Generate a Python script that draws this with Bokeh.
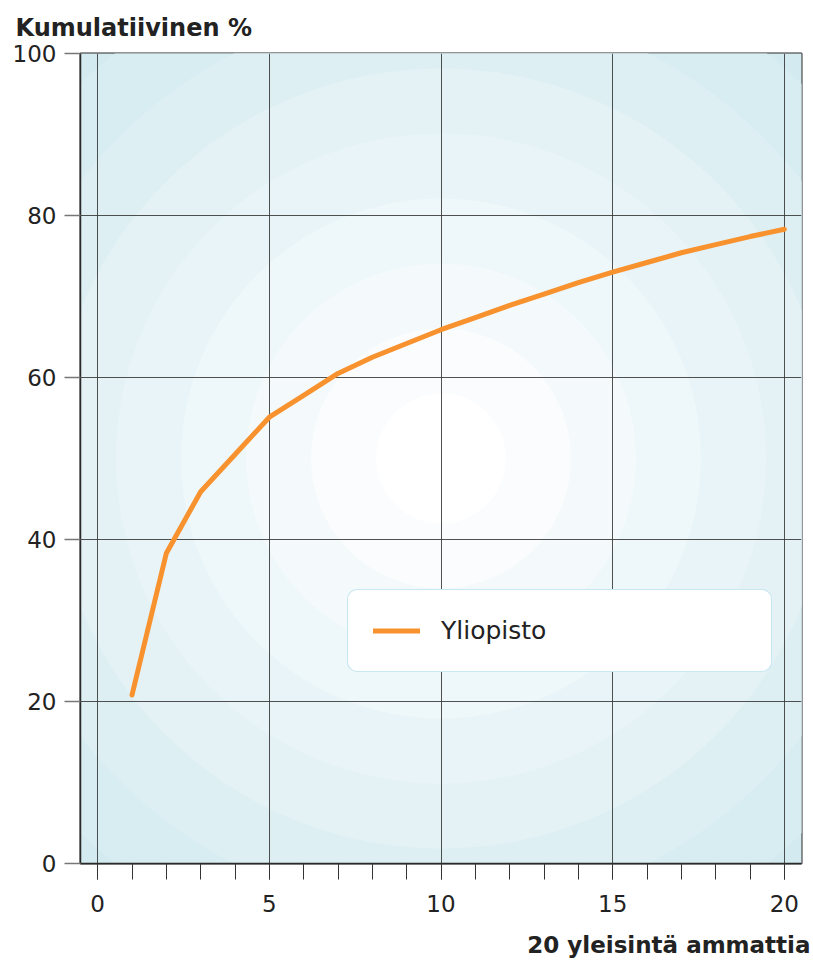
from bokeh.plotting import figure
from bokeh.models import (SingleIntervalTicker, FixedTicker, Legend, LegendItem,
                          Title, ColumnDataSource)
from bokeh.embed import file_html
from bokeh.resources import INLINE

# ---- data ----
ranks = list(range(1, 21))
cumulative_pct = [20.8, 38.3, 45.9, 50.5, 55.1, 57.8, 60.5, 62.5, 64.2, 65.9,
                  67.4, 68.9, 70.3, 71.7, 73.0, 74.2, 75.4, 76.4, 77.4, 78.3]
series_name = "Yliopisto"
y_tick_values = [0, 20, 40, 60, 80, 100]
title_text = "Kumulatiivinen %"
x_label_text = "20 yleisintä ammattia"

FONT = "DejaVu Sans"
TEXT_COLOR = "#222222"
FRAME_COLOR = "#2a2a2a"

p = figure(frame_width=721, frame_height=810,
           x_range=(-0.5, 20.5), y_range=(0, 100),
           output_backend="svg", toolbar_location=None,
           min_border_left=80, min_border_top=53,
           min_border_right=10, min_border_bottom=100)

# ---- radial background (style only) ----
def mix(c1, c2, t):
    a = [int(c1[i:i + 2], 16) for i in (1, 3, 5)]
    b = [int(c2[i:i + 2], 16) for i in (1, 3, 5)]
    return "#%02x%02x%02x" % tuple(round(a[i] + (b[i] - a[i]) * t) for i in range(3))

edge_col = "#d3eaf0"
n_rings = 9
ring_step = 65
ring_sizes = [2 * ring_step * k for k in range(n_rings, 0, -1)]
ring_cols = [mix("#ffffff", edge_col, (k - 1) / (n_rings - 1)) for k in range(n_rings, 0, -1)]
xc = (p.x_range.start + p.x_range.end) / 2
yc = (p.y_range.start + p.y_range.end) / 2
p.background_fill_color = edge_col
bg = p.scatter(x=[xc] * n_rings, y=[yc] * n_rings, size=ring_sizes, marker="circle",
               fill_color=ring_cols, line_color=None)
bg.level = "image"

p.border_fill_color = "white"
p.outline_line_color = FRAME_COLOR
p.outline_line_width = 2

# ---- data line ----
src = ColumnDataSource(dict(x=ranks, y=cumulative_pct))
r = p.line("x", "y", source=src, line_width=5, line_color="#f7922e",
           line_join="round", line_cap="round")

# ---- axes ----
xt = SingleIntervalTicker(interval=5, num_minor_ticks=5)
p.xaxis.ticker = xt
p.xgrid.ticker = xt
xa = p.xaxis[0]
xa.axis_line_color = FRAME_COLOR
xa.axis_line_width = 1.5
xa.major_tick_in = 0
xa.minor_tick_in = 0
xa.major_tick_out = 16
xa.minor_tick_out = 16
xa.major_tick_line_color = "#333333"
xa.minor_tick_line_color = "#333333"
xa.major_label_standoff = 15
xa.major_label_text_font = FONT
xa.major_label_text_font_size = "23px"
xa.major_label_text_color = TEXT_COLOR

yt = FixedTicker(ticks=y_tick_values)
p.yaxis.ticker = yt
p.ygrid.ticker = yt
ya = p.yaxis[0]
ya.axis_line_color = FRAME_COLOR
ya.axis_line_width = 1.5
ya.minor_tick_line_color = None
ya.major_tick_in = 0
ya.major_tick_out = 16
ya.major_tick_line_color = "#777777"
ya.major_tick_line_width = 1.5
ya.major_label_standoff = 8
ya.major_label_text_font = FONT
ya.major_label_text_font_size = "23px"
ya.major_label_text_color = TEXT_COLOR

for g in (p.xgrid[0], p.ygrid[0]):
    g.grid_line_color = "#333333"
    g.grid_line_alpha = 0.85
    g.grid_line_width = 1

# ---- titles ----
p.title.text = title_text
p.title.align = "left"
p.title.vertical_align = "top"
p.title.offset = -65
p.title.standoff = 20
p.title.text_font = FONT
p.title.text_font_style = "bold"
p.title.text_font_size = "24px"
p.title.text_color = TEXT_COLOR

xlab = Title(text=x_label_text, align="right", text_font=FONT, text_font_style="bold",
             text_font_size="23px", text_color=TEXT_COLOR, offset=-9, standoff=30)
p.add_layout(xlab, "below")

# ---- legend ----
legend = Legend(items=[LegendItem(label=series_name, renderers=[r])],
                location=(267, 191), padding=25, margin=0,
                glyph_width=47, glyph_height=31, label_standoff=21,
                label_width=305, label_height=31,
                label_text_font=FONT, label_text_font_size="25px",
                label_text_color=TEXT_COLOR,
                border_line_color="#8fd0e4", border_line_width=1.5,
                background_fill_color="white", background_fill_alpha=1.0)
if "border_radius" in Legend.properties():
    legend.border_radius = 10
p.add_layout(legend)

open("out.html", "w").write(file_html(p, INLINE))
